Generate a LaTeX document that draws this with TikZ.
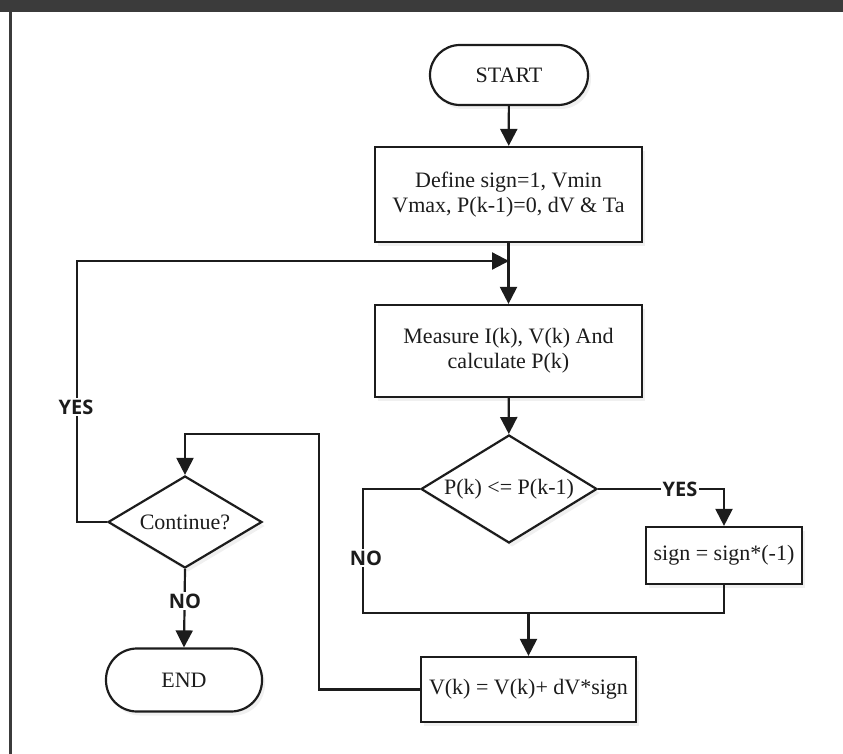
\documentclass[tikz,border=0pt]{standalone}
\usepackage{fontspec}
\setmainfont{Liberation Serif}
\newfontfamily\lblfont{Open Sans}
\usetikzlibrary{shapes.geometric,arrows.meta,shadows}
\definecolor{frame}{HTML}{3B3B3B}
\definecolor{ink}{HTML}{1C1C1C}
\begin{document}
\begin{tikzpicture}[x=1pt,y=-1pt,
  every node/.style={text=ink},
  boxtxt/.style={font=\fontsize{22}{25}\selectfont, align=center},
  base/.style={draw=ink, line width=2.2pt, fill=white, inner sep=0pt,
    drop shadow={opacity=0.12, shadow xshift=3pt, shadow yshift=-4pt}},
  term/.style={base, boxtxt, rectangle, rounded corners=30pt},
  proc/.style={base, boxtxt, rectangle},
  decide/.style={base, boxtxt, diamond},
  flow/.style={draw=ink, line width=2.2pt},
  arr/.style={flow, -{Triangle[length=17pt,width=17pt]}},
  lbl/.style={font=\lblfont\bfseries\fontsize{20}{22}\selectfont, fill=white, inner sep=1.5pt}
]
\useasboundingbox (0,0) rectangle (843,754);
% page frame: dark top strip and left rule
\fill[frame] (0,0) rectangle (843,12);
\fill[frame] (9,0) rectangle (12,754);

% nodes
\node[term, minimum width=158pt, minimum height=60pt] (start) at (509,75) {START};
\node[proc, minimum width=267pt, minimum height=95pt] (define) at (508.5,194.5)
  {Define sign=1, Vmin\\Vmax, P(k-1)=0, dV \& Ta};
\node[proc, minimum width=267pt, minimum height=92pt] (measure) at (508.5,351)
  {Measure I(k), V(k) And\\calculate P(k)};
\node[decide, aspect=1.63, minimum width=176pt, minimum height=108pt] (cmp) at (509,489) {P(k) <= P(k-1)};
\node[proc, minimum width=156pt, minimum height=57pt] (flip) at (724,555.5) {sign = sign*(-1)};
\node[proc, minimum width=215pt, minimum height=65pt] (step) at (528.5,689.5) {V(k) = V(k)+ dV*sign};
\node[decide, aspect=1.67, minimum width=154pt, minimum height=92pt] (cont) at (185,522) {Continue?};
\node[term, minimum width=156pt, minimum height=63pt, rounded corners=31pt] (stop) at (184,680) {END};

% junction points of the routing
\coordinate (loopin) at (509,261);
\coordinate (merge) at (528.5,613);

% connectors
\draw[arr] (start) -- (define);
\draw[arr] (define) -- (measure);
\draw[arr] (measure) -- (cmp);
\draw[arr] (cmp.east) -- (flip.north |- cmp.east) -- (flip.north);
\draw[flow] (cmp.west) -- (363,489) -- (363,613) -- (flip.south |- merge) -- (flip.south);
\draw[arr] (merge) -- (step.north);
\draw[arr] (step.west) -- (319,689.5) -- (319,434) -- (cont.north |- 0,434) -- (cont.north);
\draw[arr] (cont.west) -- (77,522) -- (77,261) -- (loopin);
\draw[arr] (cont.south) -- (stop.north);

% branch labels
\node[lbl] (yes1) at (680,489) {YES};
\node[lbl] (no1) at (366,558) {NO};
\node[lbl] (yes2) at (76,407) {YES};
\node[lbl] (no2) at (185,601) {NO};
\end{tikzpicture}
\end{document}
